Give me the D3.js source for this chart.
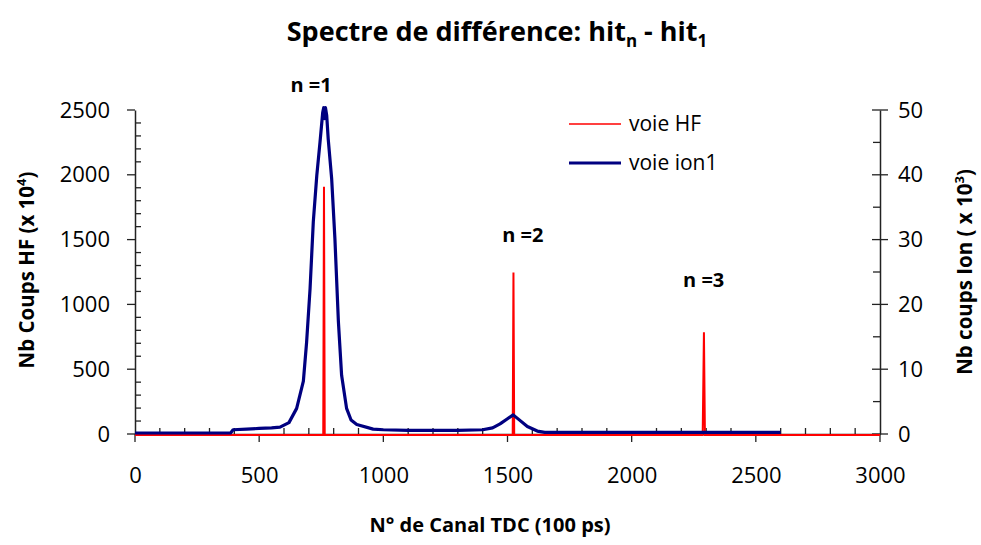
<!DOCTYPE html>
<html><head><meta charset="utf-8">
<script src="https://cdn.jsdelivr.net/npm/d3@7"></script>
<style>body{margin:0;background:#fff}svg{display:block}text{font-family:"Open Sans",sans-serif}</style>
</head><body>
<svg id="c" width="981" height="545"></svg>
<script>
// HF channel (left axis, x10^4)
const hfX = [0, 758, 761, 764, 1521, 1524, 1527, 2286, 2291, 2295, 3000];
const hfY = [0, 0, 1915, 0, 0, 1254, 0, 0, 792, 0, 0];
// ion1 channel (right axis, x10^3)
const ionX = [0, 385, 395, 450, 500, 550, 584, 620, 651, 678, 691, 705, 718, 732, 745, 756, 760, 763, 767, 772, 778, 792, 805, 819, 832, 852, 870, 893, 959, 1000, 1100, 1200, 1300, 1400, 1440, 1470, 1500, 1523, 1545, 1580, 1620, 1650, 1800, 2000, 2200, 2400, 2600];
const ionY = [0, 0, 0.5, 0.6, 0.7, 0.8, 0.9, 1.6, 3.8, 8, 14, 22.3, 32.6, 39.7, 44.9, 49.5, 50.2, 48.5, 50.2, 49, 45.4, 39.2, 30, 17.2, 8.9, 3.8, 2.0, 1.3, 0.6, 0.5, 0.4, 0.4, 0.4, 0.5, 0.8, 1.4, 2.2, 2.8, 2.1, 1.0, 0.3, 0.1, 0.1, 0.1, 0.1, 0.1, 0.1];
const xTicks = [0, 500, 1000, 1500, 2000, 2500, 3000];
const yLeftTicks = [0, 500, 1000, 1500, 2000, 2500];
const yRightTicks = [0, 10, 20, 30, 40, 50];
const peakLabels = ["n =1", "n =2", "n =3"];
const peakLabelX = [709, 1562, 2290];
const peakLabelY = [2639, 1481, 1134];

const svg = d3.select("#c");
const L = 135, R = 880, T = 110, B = 434;
const x = d3.scaleLinear().domain([0, 3000]).range([L, R]);
const yL = d3.scaleLinear().domain([0, 2500]).range([B, T]);
const yR = d3.scaleLinear().domain([0, 50]).range([B, T]);

// minor ticks
const g = svg.append("g").attr("stroke", "#222").attr("stroke-width", 1.3);
d3.range(0, 3001, 100).forEach(v => { if (v % 500) g.append("line").attr("x1", x(v)).attr("x2", x(v)).attr("y1", B).attr("y2", B - 6); });
d3.range(0, 2501, 100).forEach(v => { if (v % 500) g.append("line").attr("x1", L).attr("x2", L + 6).attr("y1", yL(v)).attr("y2", yL(v)); });
d3.range(5, 50, 10).forEach(v => g.append("line").attr("x1", R).attr("x2", R - 7).attr("y1", yR(v)).attr("y2", yR(v)));

// axes
const xAxis = svg.append("g").attr("transform", `translate(0,${B})`)
  .call(d3.axisBottom(x).tickValues(xTicks).tickSize(0).tickPadding(38).tickFormat(d3.format("d")));
xTicks.forEach(v => xAxis.append("line").attr("x1", x(v)).attr("x2", x(v)).attr("y1", 0).attr("y2", 8).attr("stroke", "#222").attr("stroke-width", 1.3));
const yAxisL = svg.append("g").attr("transform", `translate(${L},0)`)
  .call(d3.axisLeft(yL).tickValues(yLeftTicks).tickSize(0).tickPadding(25).tickFormat(d3.format("d")));
yLeftTicks.forEach(v => yAxisL.append("line").attr("x1", -8).attr("x2", 0).attr("y1", yL(v)).attr("y2", yL(v)).attr("stroke", "#222").attr("stroke-width", 1.3));
const yAxisR = svg.append("g").attr("transform", `translate(${R},0)`)
  .call(d3.axisRight(yR).tickValues(yRightTicks).tickSize(0).tickPadding(18).tickFormat(d3.format("d")));
yRightTicks.forEach(v => yAxisR.append("line").attr("x1", -8).attr("x2", 8).attr("y1", yR(v)).attr("y2", yR(v)).attr("stroke", "#222").attr("stroke-width", 1.3));
[xAxis, yAxisL, yAxisR].forEach(a => {
  a.select(".domain").attr("stroke", "#222").attr("stroke-width", 1.5);
  a.selectAll(".tick text").attr("font-size", 22).attr("font-family", "'Open Sans',sans-serif").attr("fill", "#000");
});
xAxis.selectAll(".tick text").attr("dy", "0.5em");

// series
svg.append("path").datum(hfX.map((v, i) => [v, hfY[i]]))
  .attr("fill", "none").attr("stroke", "#ff0000").attr("stroke-width", 2)
  .attr("d", d3.line().x(d => x(d[0])).y(d => yL(d[1]) + 1));
svg.append("path").datum(ionX.map((v, i) => [v, ionY[i]]))
  .attr("fill", "none").attr("stroke", "#000080").attr("stroke-width", 3.2).attr("stroke-linejoin", "round")
  .attr("d", d3.line().x(d => x(d[0])).y(d => yR(d[1]) - 1));

// peak labels
peakLabels.forEach((t, i) => svg.append("text").attr("x", x(peakLabelX[i])).attr("y", yL(peakLabelY[i]))
  .attr("text-anchor", "middle").attr("font-family", "'Liberation Sans',Arial,sans-serif")
  .attr("font-weight", "bold").attr("font-size", 20).text(t));

// legend
const leg = [{t:"voie HF", c:"#ff0000", w:1.5, y:124}, {t:"voie ion1", c:"#000080", w:3, y:163}];
leg.forEach(l => {
  svg.append("line").attr("x1", 569).attr("x2", 621).attr("y1", l.y).attr("y2", l.y).attr("stroke", l.c).attr("stroke-width", l.w);
  svg.append("text").attr("x", 629).attr("y", l.y).attr("dy", "0.35em").attr("font-size", 21).text(l.t);
});

// title
const title = svg.append("text").attr("x", 497).attr("y", 41).attr("text-anchor", "middle")
  .attr("font-weight", "bold").attr("font-size", 27);
title.append("tspan").text("Spectre de différence: hit");
title.append("tspan").attr("font-size", 17).attr("dy", 6).text("n");
title.append("tspan").attr("dy", -6).text(" - hit");
title.append("tspan").attr("font-size", 17).attr("dy", 6).text("1");

// x title
svg.append("text").attr("x", 490).attr("y", 532).attr("text-anchor", "middle")
  .attr("font-weight", "bold").attr("font-size", 20).text("N° de Canal TDC (100 ps)");

// left y title
const lt = svg.append("text").attr("transform", "translate(34,270) rotate(-90)").attr("text-anchor", "middle")
  .attr("font-weight", "bold").attr("font-size", 20.5);
lt.append("tspan").text("Nb Coups HF (x 10");
lt.append("tspan").attr("font-size", 13).attr("dy", -8).text("4");
lt.append("tspan").attr("dy", 8).text(")");

// right y title
const rt = svg.append("text").attr("transform", "translate(972,272) rotate(-90)").attr("text-anchor", "middle")
  .attr("font-weight", "bold").attr("font-size", 20.5);
rt.append("tspan").text("Nb coups Ion ( x 10");
rt.append("tspan").attr("font-size", 13).attr("dy", -8).text("3");
rt.append("tspan").attr("dy", 8).text(")");
</script>
</body></html>
